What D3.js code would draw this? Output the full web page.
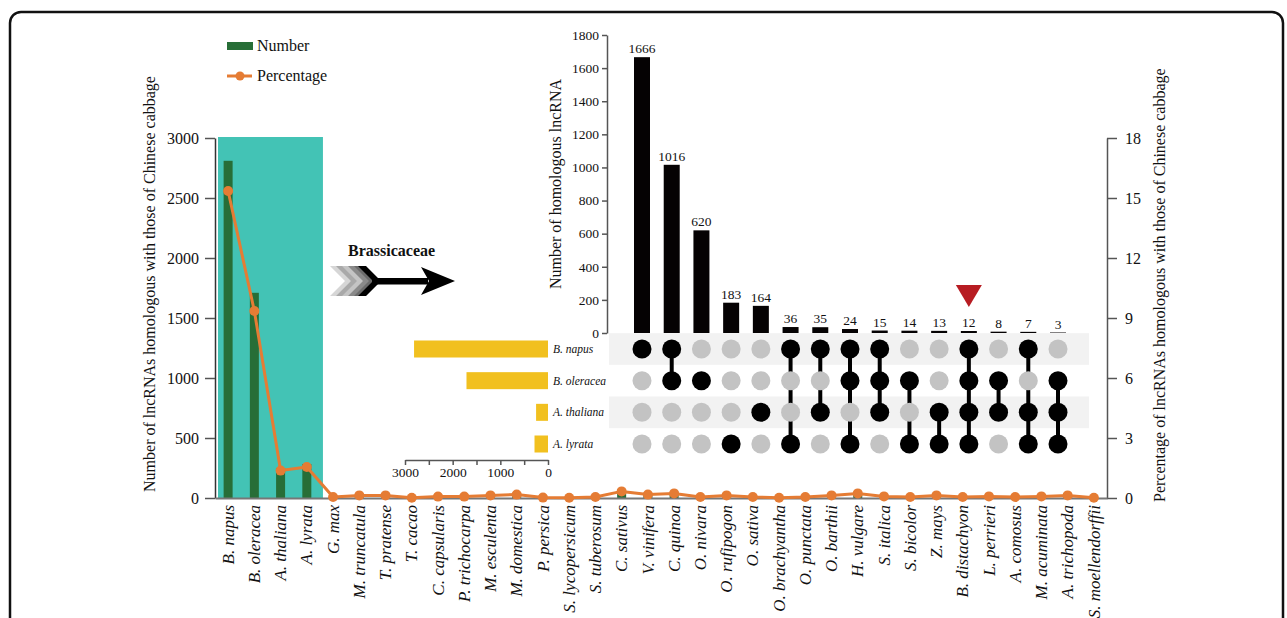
<!DOCTYPE html>
<html>
<head>
<meta charset="utf-8">
<script src="https://cdn.jsdelivr.net/npm/d3@7"></script>
<style>
  body { margin: 0; background: #fff; }
  svg { display: block; font-family: "Liberation Serif", "Times New Roman", serif; }
</style>
</head>
<body>
<svg id="chart"></svg>
<script>
// species along the bottom axis
var species = ["B. napus", "B. oleracea", "A. thaliana", "A. lyrata", "G. max", "M. truncatula", "T. pratense",
    "T. cacao", "C. capsularis", "P. trichocarpa", "M. esculenta", "M. domestica", "P. persica", "S. lycopersicum",
    "S. tuberosum", "C. sativus", "V. vinifera", "C. quinoa", "O. nivara", "O. rufipogon", "O. sativa",
    "O. brachyantha", "O. punctata", "O. barthii", "H. vulgare", "S. italica", "S. bicolor", "Z. mays",
    "B. distachyon", "L. perrieri", "A. comosus", "M. acuminata", "A. trichopoda", "S. moellendorffii"];
// number of homologous lncRNAs (green bars)
var counts = [2810, 1710, 250, 283, 9, 24, 24, 2, 13, 13, 24, 31, 4, 2, 9, 60, 31, 42, 9, 24, 9, 2, 9, 24, 42,
    15, 9, 24, 9, 15, 9, 15, 24, 2];
// percentage (orange line)
var percents = [15.35, 9.35, 1.37, 1.55, 0.05, 0.13, 0.13, 0.01, 0.07, 0.07, 0.13, 0.17, 0.02, 0.01, 0.05, 0.33,
    0.17, 0.23, 0.05, 0.13, 0.05, 0.01, 0.05, 0.13, 0.23, 0.08, 0.05, 0.13, 0.05, 0.08, 0.05, 0.08, 0.13, 0.01];
var highlighted = 4; // first four species are Brassicaceae
var leftTicks = [0, 500, 1000, 1500, 2000, 2500, 3000];
var rightTicks = [0, 3, 6, 9, 12, 15, 18];

// upset plot of the Brassicaceae
var sets = ["B. napus", "B. oleracea", "A. thaliana", "A. lyrata"];
var setSizes = [2810, 1710, 250, 283];
var interSizes = [1666, 1016, 620, 183, 164, 36, 35, 24, 15, 14, 13, 12, 8, 7, 3];
var interMembers = [[0], [0, 1], [1], [3], [2], [0, 3], [0, 2], [0, 1, 3], [0, 1, 2], [1, 3], [2, 3],
    [0, 1, 2, 3], [1, 2], [0, 2, 3], [1, 2, 3]];
var upsetTicks = [0, 200, 400, 600, 800, 1000, 1200, 1400, 1600, 1800];
var setTicks = [0, 500, 1000, 1500, 2000, 2500, 3000];
var setTickLabels = [0, 1000, 2000, 3000];
var marked = 11; // intersection with the red triangle

var green = "#276e37", orange = "#e57c34", teal = "#43c3b5", yellow = "#f1c01f";

drawChart();

// serif text, grey lines for an axis group
function styleAxis(g, size) {
    g.attr("font-family", null).attr("font-size", null);
    g.selectAll("text").style("font-size", size + "px").attr("fill", "#111");
    g.select(".domain").attr("stroke", "#555").attr("stroke-width", 1.5);
    g.selectAll(".tick line").attr("stroke", "#555").attr("stroke-width", 1.5);
}

function drawChart() {
    var svg = d3.select("#chart").attr("width", 1287).attr("height", 618);

    // rounded frame round the figure
    svg.append("rect")
        .attr("x", 10).attr("y", 12)
        .attr("width", 1273).attr("height", 660)
        .attr("rx", 11)
        .attr("fill", "none").attr("stroke", "#111").attr("stroke-width", 2.5);

    var x = d3.scaleBand().domain(species).range([215, 1107]);
    var yL = d3.scaleLinear().domain([0, 3000]).range([498, 138]);
    var yR = d3.scaleLinear().domain([0, 18]).range([498, 138]);

    // teal box behind the Brassicaceae
    svg.append("rect")
        .attr("x", x(species[0]) + 3)
        .attr("y", yL(3000) - 1)
        .attr("width", x.step() * highlighted)
        .attr("height", yL(0) - yL(3000) + 1)
        .attr("fill", teal);

    // bars
    svg.append("g").selectAll("rect")
        .data(counts)
        .join("rect")
        .attr("x", function(d, i) { return x(species[i]) + x.bandwidth() / 2 - 4.5; })
        .attr("y", function(d) { return yL(d); })
        .attr("width", 9)
        .attr("height", function(d) { return yL(0) - yL(d); })
        .attr("fill", green);

    // left axis
    var gl = svg.append("g")
        .attr("transform", "translate(215,0)")
        .call(d3.axisLeft(yL).tickValues(leftTicks).tickFormat(d3.format("d"))
            .tickSize(10).tickSizeOuter(0).tickPadding(6));
    styleAxis(gl, 16);
    gl.select(".domain").attr("stroke", "#333");

    // right axis
    var gr = svg.append("g")
        .attr("transform", "translate(1107,0)")
        .call(d3.axisRight(yR).tickValues(rightTicks).tickFormat(d3.format("d"))
            .tickSize(10).tickSizeOuter(0).tickPadding(8));
    styleAxis(gr, 16);

    // bottom axis with rotated italic species names
    var gx = svg.append("g")
        .attr("transform", "translate(0,498)")
        .call(d3.axisBottom(x).tickSize(0).tickSizeOuter(0));
    gx.attr("font-family", null).attr("font-size", null);
    gx.select(".domain").attr("stroke", "#777").attr("stroke-width", 2);
    gx.selectAll("text")
        .attr("transform", "rotate(-90)")
        .attr("text-anchor", "end")
        .attr("x", -7).attr("y", 0).attr("dy", "0.33em")
        .style("font-size", "17px").style("font-style", "italic").attr("fill", "#111");

    // percentage line
    var line = d3.line()
        .x(function(d, i) { return x(species[i]) + x.bandwidth() / 2; })
        .y(function(d) { return yR(d); });
    svg.append("path")
        .datum(percents)
        .attr("fill", "none")
        .attr("stroke", orange)
        .attr("stroke-width", 3)
        .attr("stroke-linejoin", "round")
        .attr("d", line);
    svg.append("g").selectAll("circle")
        .data(percents)
        .join("circle")
        .attr("cx", function(d, i) { return x(species[i]) + x.bandwidth() / 2; })
        .attr("cy", function(d) { return yR(d); })
        .attr("r", 5)
        .attr("fill", orange);

    // axis titles
    svg.append("text")
        .attr("transform", "translate(155,284) rotate(-90)")
        .attr("text-anchor", "middle")
        .style("font-size", "16px").attr("fill", "#111")
        .text("Number of lncRNAs homologous with those of Chinese cabbage");
    svg.append("text")
        .attr("transform", "translate(1165,502) rotate(-90)")
        .attr("text-anchor", "start")
        .style("font-size", "16px").attr("fill", "#111")
        .text("Percentage of lncRNAs homologous with those of Chinese cabbage");

    // legend
    var lg = svg.append("g").style("font-size", "16px").attr("fill", "#111");
    lg.append("rect").attr("x", 227).attr("y", 42).attr("width", 26).attr("height", 8).attr("fill", green);
    lg.append("text").attr("x", 257).attr("y", 51).text("Number");
    lg.append("line").attr("x1", 227).attr("x2", 252).attr("y1", 76).attr("y2", 76)
        .attr("stroke", orange).attr("stroke-width", 3);
    lg.append("circle").attr("cx", 240).attr("cy", 76).attr("r", 4.5).attr("fill", orange);
    lg.append("text").attr("x", 257).attr("y", 81).text("Percentage");

    // Brassicaceae arrow
    svg.append("text")
        .attr("x", 348).attr("y", 256)
        .style("font-size", "16px").style("font-weight", "bold").attr("fill", "#111")
        .text("Brassicaceae");
    var shades = ["#d6d6d6", "#a9a9a9", "#c4c4c4", "#8a8a8a", "#6b6b6b"];
    shades.forEach(function(c, i) {
        var dx = 330 + i * 6;
        svg.append("path")
            .attr("d", "M" + dx + ",266 L" + (dx + 9) + ",266 L" + (dx + 24) + ",281 L" + (dx + 9) + ",296 L" + dx + ",296 L" + (dx + 15) + ",281 Z")
            .attr("fill", c);
    });
    svg.append("path")
        .attr("d", "M358,266 L366,266 L381,281 L366,296 L358,296 L373,281 Z")
        .attr("fill", "#000");
    svg.append("rect").attr("x", 372).attr("y", 278).attr("width", 56).attr("height", 6.5).attr("fill", "#000");
    svg.append("path").attr("d", "M421,267 L455,281 L421,295 L429,281 Z").attr("fill", "#000");

    drawUpset(svg);
}

function drawUpset(svg) {
    var ux = d3.scalePoint().domain(d3.range(interSizes.length)).range([642, 1058]);
    var uy = d3.scaleLinear().domain([0, 1800]).range([333, 35]);
    var ry = d3.scalePoint().domain(sets).range([349, 444]);
    var sx = d3.scaleLinear().domain([0, 3000]).range([548, 405]);
    var rowH = ry.step();

    // shaded rows
    svg.append("g").selectAll("rect")
        .data(sets.filter(function(d, i) { return i % 2 === 0; }))
        .join("rect")
        .attr("x", 609).attr("width", 480)
        .attr("y", function(d) { return ry(d) - rowH / 2; })
        .attr("height", rowH)
        .attr("fill", "#f2f2f2");

    // intersection bars
    svg.append("g").selectAll("rect")
        .data(interSizes)
        .join("rect")
        .attr("x", function(d, i) { return ux(i) - 8; })
        .attr("y", function(d) { return uy(d); })
        .attr("width", 16)
        .attr("height", function(d) { return uy(0) - uy(d); })
        .attr("fill", "#050203");
    svg.append("g").selectAll("text")
        .data(interSizes)
        .join("text")
        .attr("x", function(d, i) { return ux(i); })
        .attr("y", function(d) { return uy(d) - 4; })
        .attr("text-anchor", "middle")
        .style("font-size", "13.5px").attr("fill", "#111")
        .text(function(d) { return d; });

    // red triangle marker
    var tx = ux(marked), ty = uy(interSizes[marked]) - 24;
    svg.append("path")
        .attr("d", "M" + (tx - 13) + "," + (ty - 22) + " L" + (tx + 13) + "," + (ty - 22) + " L" + tx + "," + ty + " Z")
        .attr("fill", "#b71c22");

    var ga = svg.append("g")
        .attr("transform", "translate(607,0)")
        .call(d3.axisLeft(uy).tickValues(upsetTicks).tickFormat(d3.format("d"))
            .tickSize(5).tickSizeOuter(0).tickPadding(3));
    styleAxis(ga, 13.5);
    svg.append("text")
        .attr("transform", "translate(561,184) rotate(-90)")
        .attr("text-anchor", "middle")
        .style("font-size", "16px").attr("fill", "#111")
        .text("Number of homologous lncRNA");

    // connecting lines and dots
    var cols = svg.append("g");
    interMembers.forEach(function(m, i) {
        if (m.length > 1) {
            cols.append("line")
                .attr("x1", ux(i)).attr("x2", ux(i))
                .attr("y1", ry(sets[d3.min(m)])).attr("y2", ry(sets[d3.max(m)]))
                .attr("stroke", "#000").attr("stroke-width", 4);
        }
        sets.forEach(function(s, j) {
            cols.append("circle")
                .attr("cx", ux(i)).attr("cy", ry(s)).attr("r", 9.5)
                .attr("fill", m.indexOf(j) >= 0 ? "#000" : "#c3c3c3");
        });
    });

    // set size bars
    svg.append("g").selectAll("rect")
        .data(setSizes)
        .join("rect")
        .attr("x", function(d) { return sx(d); })
        .attr("y", function(d, i) { return ry(sets[i]) - 8.5; })
        .attr("width", function(d) { return sx(0) - sx(d); })
        .attr("height", 17)
        .attr("fill", yellow);
    svg.append("g").selectAll("text")
        .data(sets)
        .join("text")
        .attr("x", 553)
        .attr("y", function(d) { return ry(d); })
        .attr("dy", "0.35em")
        .style("font-size", "11.5px").style("font-style", "italic").attr("fill", "#111")
        .text(function(d) { return d; });
    var gs = svg.append("g")
        .attr("transform", "translate(0,460)")
        .call(d3.axisBottom(sx).tickValues(setTicks).tickSize(5).tickSizeOuter(0).tickPadding(2)
            .tickFormat(function(d) { return setTickLabels.indexOf(d) >= 0 ? d : ""; }));
    styleAxis(gs, 13.5);
}
</script>
</body>
</html>
